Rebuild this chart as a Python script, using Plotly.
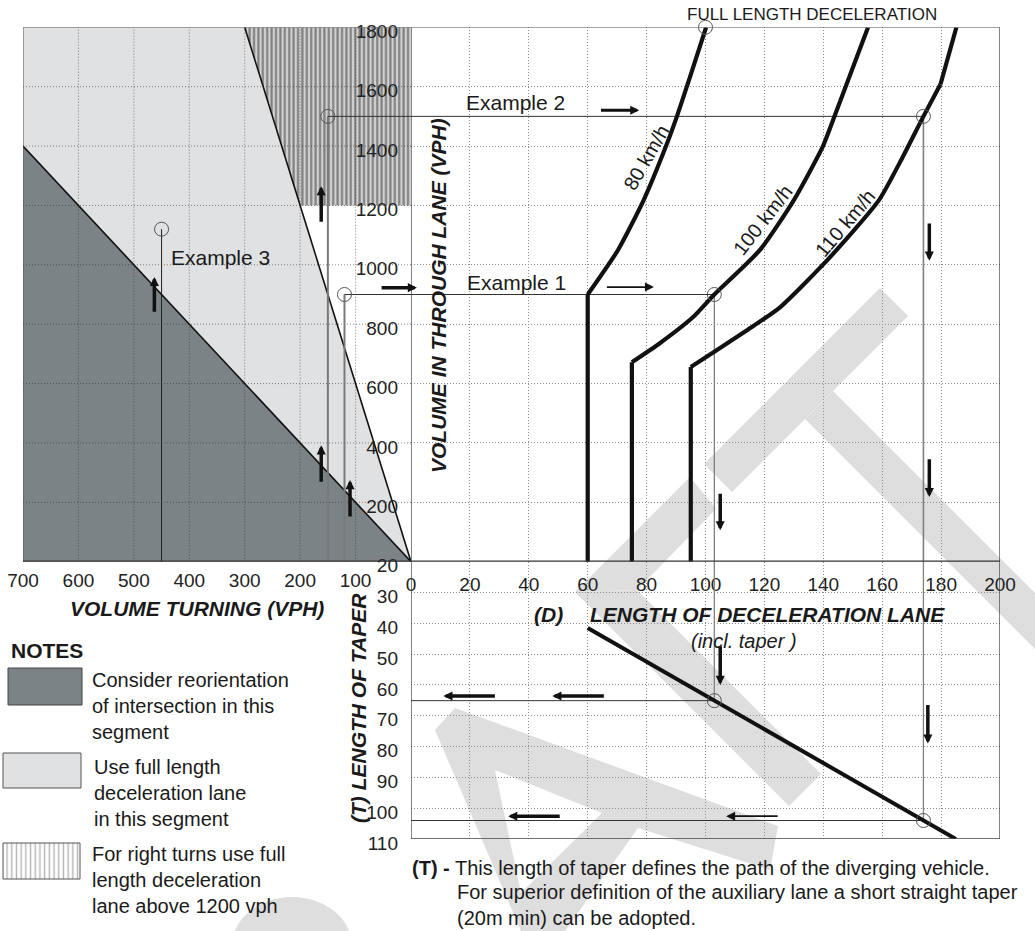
import plotly.graph_objects as go

W, H = 1035, 931
FONT = "Liberation Sans, Arial, sans-serif"

# ---------------- data ----------------
turning_ticks = [700, 600, 500, 400, 300, 200, 100]
through_ticks = [200, 400, 600, 800, 1000, 1200, 1400, 1600, 1800]
decel_ticks = [0, 20, 40, 60, 80, 100, 120, 140, 160, 180, 200]
taper_ticks = [20, 30, 40, 50, 60, 70, 80, 90, 100, 110]

# zones on the left chart: (volume turning, volume through)
reorient_turn = [700, 700, 0]
reorient_thru = [0, 1400, 0]
fulllen_turn = [700, 700, 300, 0]
fulllen_thru = [1400, 1800, 1800, 0]
rightturn_turn = [300, 0, 0, 200]
rightturn_thru = [1800, 1800, 1200, 1200]

# speed curves: length of deceleration lane (m) vs volume in through lane (vph)
# first point = base of the vertical minimum-length part, second = corner
v80_len = [60, 60, 70.3, 79, 86.6, 90.3, 95.3, 100.2]
v80_vol = [0, 900, 1050, 1218, 1400, 1500, 1650, 1800]
v100_len = [75, 75, 84.5, 95.8, 103, 118.5, 130, 139.9, 143.8, 149.5, 155.2]
v100_vol = [0, 672, 736, 824, 900, 1050, 1218, 1400, 1500, 1650, 1800]
v110_len = [95, 95, 103.9, 114.1, 125.3, 142.3, 158.9, 166.8, 174, 179.8, 185.2]
v110_vol = [0, 656, 713, 780, 857, 1026, 1218, 1360, 1500, 1608, 1800]

# taper line: length of deceleration lane vs length of taper
taper_len = [60, 185]
taper_T = [41.5, 110]

# worked examples
ex_turn = [120, 150, 450]      # volume turning (Ex1, Ex2, Ex3)
ex_thru = [900, 1500, 1120]    # volume in through lane
ex_len = [103, 174]            # resulting deceleration length (Ex1, Ex2)
ex_taper = [65.1, 104.0]       # resulting taper length (Ex1, Ex2)
fld_len, fld_vol = 100, 1800   # full length deceleration point

# ---------------- layout helpers ----------------
def PX(x):
    return x / W

def PY(y):
    return 1 - y / H

Y_TOP, Y_BOT, T_BOT = 27.3, 561.7, 839.0
X_LEFT, X_MID, X_RIGHT = 23.0, 411.0, 1000.0

fig = go.Figure()

def sc(**kw):
    kw.setdefault("hoverinfo", "skip")
    kw.setdefault("showlegend", False)
    fig.add_trace(go.Scatter(**kw))

DOTS = "1px,2px"

# ---- left chart zones ----
sc(x=reorient_turn, y=reorient_thru, fill="toself", fillcolor="#7b8386",
   mode="lines", line=dict(width=0), xaxis="x", yaxis="y")
sc(x=fulllen_turn, y=fulllen_thru, fill="toself", fillcolor="#e0e1e3",
   mode="lines", line=dict(width=0), xaxis="x", yaxis="y")
sc(x=rightturn_turn, y=rightturn_thru, fill="toself", mode="lines", line=dict(width=0),
   fillpattern=dict(shape="|", size=4.4, solidity=0.5, fgcolor="#2e2e2e", bgcolor="#d2d2d2"),
   xaxis="x", yaxis="y")

# left grid drawn over the zones
gx, gy = [], []
for t in turning_ticks[1:]:
    gx += [t, t, None]
    gy += [0, 1800, None]
for v in through_ticks[:-1]:
    gx += [700, 0, None]
    gy += [v, v, None]
sc(x=gx, y=gy, mode="lines", line=dict(color="rgba(40,40,40,0.55)", width=1, dash=DOTS),
   xaxis="x", yaxis="y")

# zone boundary lines
sc(x=[reorient_turn[1], reorient_turn[2]], y=[reorient_thru[1], reorient_thru[2]], mode="lines",
   line=dict(color="#111", width=1.6), xaxis="x", yaxis="y")
sc(x=[fulllen_turn[2], fulllen_turn[3]], y=[fulllen_thru[2], fulllen_thru[3]], mode="lines",
   line=dict(color="#111", width=1.6), xaxis="x", yaxis="y")

# example lines - left chart
sc(x=[ex_turn[2], ex_turn[2]], y=[0, ex_thru[2]], mode="lines", line=dict(color="#222", width=1),
   xaxis="x", yaxis="y")
sc(x=[ex_turn[1], ex_turn[1]], y=[0, ex_thru[1]], mode="lines", line=dict(color="#7a7a7a", width=2),
   xaxis="x", yaxis="y")
sc(x=[ex_turn[0], ex_turn[0]], y=[0, ex_thru[0]], mode="lines", line=dict(color="#7a7a7a", width=2),
   xaxis="x", yaxis="y")
sc(x=[ex_turn[0], 0, None, ex_turn[1], 0], y=[ex_thru[0], ex_thru[0], None, ex_thru[1], ex_thru[1]],
   mode="lines", line=dict(color="#333", width=1), xaxis="x", yaxis="y")
sc(x=ex_turn, y=ex_thru, mode="markers",
   marker=dict(symbol="circle-open", size=14, color="#555", line=dict(width=1)), xaxis="x", yaxis="y")

# ---- main chart ----
sc(x=[0, ex_len[0], None, 0, ex_len[1]], y=[ex_thru[0], ex_thru[0], None, ex_thru[1], ex_thru[1]],
   mode="lines", line=dict(color="#333", width=1), xaxis="x2", yaxis="y2")
sc(x=[ex_len[0], ex_len[0]], y=[ex_thru[0], 0], mode="lines", line=dict(color="#777", width=1.2),
   xaxis="x2", yaxis="y2")
sc(x=[ex_len[1], ex_len[1]], y=[ex_thru[1], 0], mode="lines", line=dict(color="#808080", width=1.6),
   xaxis="x2", yaxis="y2")
CURVE = dict(color="#111", width=4.2)
for lx, ly, kink in [(v80_len, v80_vol, None), (v100_len, v100_vol, None), (v110_len, v110_vol, -2)]:
    sc(x=lx[:2], y=ly[:2], mode="lines", line=CURVE, xaxis="x2", yaxis="y2")
    end = len(lx) if kink is None else len(lx) + kink + 1
    sc(x=lx[1:end], y=ly[1:end], mode="lines", line=dict(CURVE, shape="spline", smoothing=0.6),
       xaxis="x2", yaxis="y2")
    if kink is not None:
        sc(x=lx[kink:], y=ly[kink:], mode="lines", line=CURVE, xaxis="x2", yaxis="y2")
sc(x=[ex_len[0], ex_len[1], fld_len], y=[ex_thru[0], ex_thru[1], fld_vol], mode="markers",
   marker=dict(symbol="circle-open", size=14, color="#555", line=dict(width=1)),
   xaxis="x2", yaxis="y2", cliponaxis=False)

# ---- taper chart ----
sc(x=[ex_len[0], ex_len[0], None, ex_len[1], ex_len[1]], y=[20, ex_taper[0], None, 20, ex_taper[1]],
   mode="lines", line=dict(color="#808080", width=1.3), xaxis="x3", yaxis="y3")
sc(x=[0, ex_len[0], None, 0, ex_len[1]], y=[ex_taper[0], ex_taper[0], None, ex_taper[1], ex_taper[1]],
   mode="lines", line=dict(color="#333", width=1), xaxis="x3", yaxis="y3")
sc(x=taper_len, y=taper_T, mode="lines", line=dict(color="#111", width=4), xaxis="x3", yaxis="y3")
sc(x=ex_len, y=ex_taper, mode="markers",
   marker=dict(symbol="circle-open", size=14, color="#555", line=dict(width=1)), xaxis="x3", yaxis="y3")

# ---- notes swatches (own hidden axes, pixel-like units) ----
sc(x=[8, 82, 82, 8, 8], y=[668, 668, 705, 705, 668], fill="toself", fillcolor="#7b8386",
   mode="lines", line=dict(color="#444", width=1), xaxis="x4", yaxis="y4")
sc(x=[3, 81, 81, 3, 3], y=[753, 753, 788, 788, 753], fill="toself", fillcolor="#e0e1e3",
   mode="lines", line=dict(color="#555", width=1), xaxis="x4", yaxis="y4")
sc(x=[3, 80, 80, 3, 3], y=[843, 843, 879, 879, 843], fill="toself", mode="lines",
   line=dict(color="#555", width=1),
   fillpattern=dict(shape="|", size=4.7, solidity=0.3, fgcolor="#6a6a6a", bgcolor="white"),
   xaxis="x4", yaxis="y4")

# ---------------- axes ----------------
tickfont = dict(family=FONT, size=19, color="#222")
ymain = [PY(Y_BOT), PY(Y_TOP)]
ytap = [PY(T_BOT), PY(Y_BOT)]
grid = dict(showgrid=True, gridcolor="#8e8e8e", griddash=DOTS, gridwidth=1)
nogrid = dict(showgrid=False)
base = dict(zeroline=False, showline=False, ticks="", tickfont=tickfont, fixedrange=True,
            automargin=False)

fig.update_layout(
    xaxis=dict(domain=[PX(X_LEFT), PX(X_MID)], range=[700, 0], tickvals=turning_ticks,
               anchor="y", ticklabelstandoff=5, **nogrid, **base),
    yaxis=dict(domain=ymain, range=[0, 1800], showticklabels=False, anchor="x", **nogrid, **base),
    xaxis2=dict(domain=[PX(X_MID), PX(X_RIGHT)], range=[0, 200], tickvals=decel_ticks,
                anchor="y2", ticklabelstandoff=9, **grid, **base),
    yaxis2=dict(domain=ymain, range=[0, 1800], tickvals=through_ticks, anchor="x2",
                ticklabelstandoff=12, ticklabelshift=4, **grid, **base),
    xaxis3=dict(domain=[PX(X_MID), PX(X_RIGHT)], range=[0, 200], tickvals=decel_ticks[1:-1],
                showticklabels=False, anchor="y3", **grid, **base),
    yaxis3=dict(domain=ytap, range=[110, 20], tickvals=taper_ticks, anchor="x3",
                ticklabelstandoff=12, ticklabelshift=-4, **grid, **base),
    xaxis4=dict(domain=[0, PX(372)], range=[0, 372], visible=False, fixedrange=True),
    yaxis4=dict(domain=[0, PY(624)], range=[931, 624], visible=False, fixedrange=True, anchor="x4"),
)

# ---------------- borders ----------------
def ln(xref, yref, x0, y0, x1, y1, color, width):
    return dict(type="line", xref=xref, yref=yref, x0=x0, y0=y0, x1=x1, y1=y1,
                line=dict(color=color, width=width), layer="above")

shapes = [
    ln("x", "y", 700, 0, 700, 1800, "#555", 1),
    ln("x", "y", 700, 1800, 0, 1800, "#666", 1),
    ln("x", "y", 700, 0, 0, 0, "#333", 2.5),
    ln("x2", "y2", 0, 1800, 200, 1800, "#666", 1),
    ln("x2", "y2", 0, 0, 0, 1800, "#333", 1.2),
    ln("x2", "y2", 200, 0, 200, 1800, "#333", 1.2),
    ln("x2", "y2", 0, 0, 200, 0, "#333", 2.5),
    ln("x3", "y3", 0, 20, 0, 110, "#333", 1.2),
    ln("x3", "y3", 200, 20, 200, 110, "#333", 1.2),
    ln("x3", "y3", 0, 110, 200, 110, "#444", 1.6),
]

# DRAFT watermark pieces (page decoration, pixel outlines)
WM = "#dedede"
wm_polys = [
    [[(704, 464), (880, 288), (908, 316), (732, 492)]],
    [[(833, 391), (1050, 608), (1050, 664), (805, 419)]],
    [[(575, 592), (690, 477), (716, 509), (637, 590)]],
    [[(575, 592), (637, 590), (821, 774), (789, 806)]],
    [[(435, 730), (455, 708), (778, 826), (770, 870), (638, 828), (565, 931), (521, 931)],
     [(495, 770), (602, 813), (521, 893)]],
]
for rings in wm_polys:
    path = ""
    for ring in rings:
        path += "M " + " L ".join(f"{PX(a):.5f},{PY(b):.5f}" for a, b in ring) + " Z "
    shapes.append(dict(type="path", path=path.strip(), xref="paper", yref="paper", fillrule="evenodd",
                       fillcolor=WM, line=dict(width=0), layer="below"))
shapes.append(dict(type="circle", xref="paper", yref="paper", x0=PX(232), x1=PX(352),
                   y0=PY(995), y1=PY(897), fillcolor=WM, line=dict(width=0), layer="below"))
fig.update_layout(shapes=shapes)

# ---------------- annotations ----------------
ann = []

def arrow(xr, yr, x, y, ax, ay, w=3.5, size=0.52):
    ann.append(dict(xref=xr, yref=yr, axref=xr, ayref=yr, x=x, y=y, ax=ax, ay=ay, text="",
                    showarrow=True, arrowhead=2, arrowsize=size, arrowwidth=w, arrowcolor="#111"))

# left chart arrows
arrow("x", "y", 463, 959, 463, 837)
arrow("x", "y", 162, 1265, 162, 1140)
arrow("x", "y", 162, 392, 162, 264)
arrow("x", "y", 110, 275, 110, 147)
# main chart arrows
arrow("x2", "y2", 2, 923, -10.5, 923)
arrow("x2", "y2", 77.5, 1521, 64, 1521, w=3, size=0.6)
arrow("x2", "y2", 82.5, 925, 66, 925, w=1.8, size=1.0)
arrow("x2", "y2", 176, 1014, 176, 1144)
arrow("x2", "y2", 176, 218, 176, 350)
arrow("x2", "y2", 105, 106, 105, 234)
# taper chart arrows
arrow("x3", "y3", 105, 60, 105, 47)
arrow("x3", "y3", 175.5, 79, 175.5, 66)
arrow("x3", "y3", 11, 63.6, 29, 63.6)
arrow("x3", "y3", 48, 63.6, 66, 63.6)
arrow("x3", "y3", 33, 102.6, 51, 102.6)
arrow("x3", "y3", 107, 102.6, 125, 102.6, w=1.8, size=1.0)

def txt(text, x, y, xref="paper", yref="paper", size=20, xanchor="center", yanchor="middle",
        angle=0, bold=False, italic=False, align="left", color="#1a1a1a"):
    ann.append(dict(text=text, x=x, y=y, xref=xref, yref=yref, showarrow=False, xanchor=xanchor,
                    yanchor=yanchor, textangle=angle, align=align,
                    font=dict(family=FONT, size=size, color=color,
                              weight="bold" if bold else "normal",
                              style="italic" if italic else "normal")))

txt("FULL LENGTH DECELERATION", PX(812), PY(14), size=17)
txt("Example 1", 18.3, 942, xref="x2", yref="y2", xanchor="left", size=21)
txt("Example 2", 18, 1548, xref="x2", yref="y2", xanchor="left", size=21)
txt("Example 3", 436, 1026, xref="x", yref="y", xanchor="left", size=21)
txt("80 km/h", 79.8, 1360, xref="x2", yref="y2", angle=-60, size=20)
txt("100 km/h", 119.5, 1150, xref="x2", yref="y2", angle=-52, size=20)
txt("110 km/h", 147.5, 1140, xref="x2", yref="y2", angle=-50, size=20)

txt("VOLUME IN THROUGH LANE (VPH)", PX(438), PY(296), angle=-90, size=21, bold=True, italic=True)
txt("VOLUME TURNING (VPH)", PX(197), PY(608), size=21, bold=True, italic=True)
txt("(T) LENGTH OF TAPER", PX(358), PY(708), angle=-90, size=21, bold=True, italic=True)
txt("(D)", PX(532), PY(614), xanchor="left", size=21, bold=True, italic=True)
txt("LENGTH OF DECELERATION LANE", PX(588), PY(614), xanchor="left", size=21, bold=True, italic=True)
txt("(incl. taper )", PX(744), PY(641), size=20, italic=True)

txt("NOTES", PX(9), PY(650), xanchor="left", size=21, bold=True)
txt("Consider reorientation<br>of intersection in this<br>segment", PX(90), PY(706),
    xanchor="left", size=20)
txt("Use full length<br>deceleration lane<br>in this segment", PX(92), PY(793),
    xanchor="left", size=20)
txt("For right turns use full<br>length deceleration<br>lane above 1200 vph", PX(90), PY(880),
    xanchor="left", size=20)

txt("<b>(T) -</b> This length of taper defines the path of the diverging vehicle.", PX(410), PY(868),
    xanchor="left", size=20)
txt("For superior definition of the auxiliary lane a short straight taper<br>(20m min) can be adopted.",
    PX(455), PY(905), xanchor="left", size=20)

fig.update_layout(
    annotations=ann,
    width=W, height=H,
    autosize=False,
    margin=dict(l=0, r=0, t=0, b=0, pad=0, autoexpand=False),
    paper_bgcolor="white",
    plot_bgcolor="rgba(0,0,0,0)",
    showlegend=False,
    font=dict(family=FONT),
)

fig.write_html(
    "out.html",
    config={"displayModeBar": False},
    post_script=(
        "document.documentElement.style.margin='0';document.documentElement.style.padding='0';"
        "document.body.style.margin='0';document.body.style.padding='0';"
        "document.body.style.overflow='hidden';"
    ),
)
